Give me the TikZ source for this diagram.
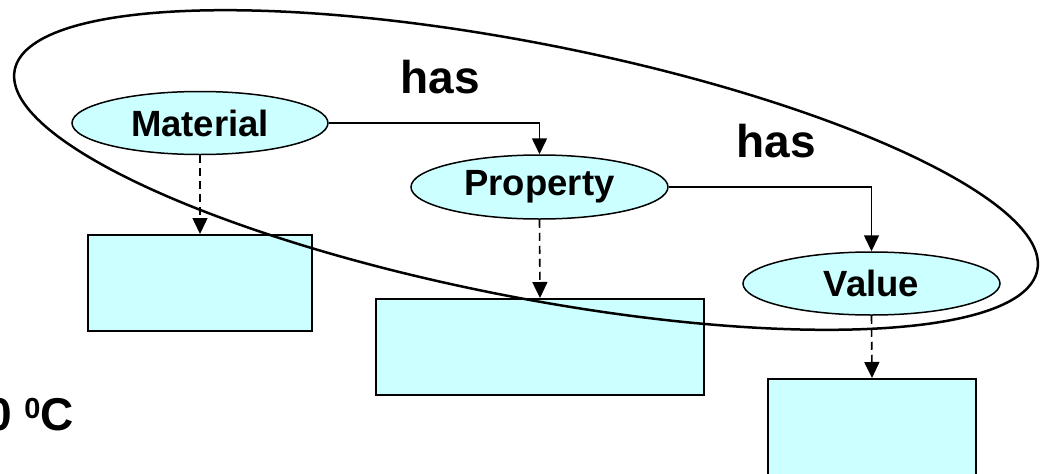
\documentclass[tikz,border=0pt]{standalone}
\usepackage{fontspec}
\setmainfont{Liberation Sans}
\usetikzlibrary{shapes.geometric,arrows.meta}
\definecolor{boxfill}{HTML}{CCFFFF}
\tikzset{
  concept/.style={ellipse,draw=black,line width=1.5pt,fill=boxfill,inner sep=0pt,
    minimum width=256pt,minimum height=63pt,font=\fontsize{36.5}{36.5}\selectfont\bfseries},
  valbox/.style={rectangle,draw=black,line width=2pt,fill=boxfill,inner sep=0pt},
  rel/.style={line width=1.6pt,-{Triangle[length=16pt,width=15pt]}},
  inst/.style={line width=1.6pt,dash pattern=on 8pt off 5pt,-{Triangle[length=16pt,width=15pt]}},
  biglabel/.style={font=\fontsize{46}{46}\selectfont\bfseries,inner sep=0pt},
  group/.style={line width=2.5pt}
}
\begin{document}
\begin{tikzpicture}[x=1pt,y=1pt]
\useasboundingbox (0,0) rectangle (1042,-474);
\clip (0,0) rectangle (1042,-474);
\fill[white] (0,0) rectangle (1042,-474);
% value boxes
\node[valbox,minimum width=224pt,minimum height=96pt] (r1) at (200,-283) {};
\node[valbox,minimum width=328pt,minimum height=96pt] (r2) at (540,-347) {};
\node[valbox,minimum width=208pt,minimum height=120pt] (r3) at (872,-439) {};
% concepts
\node[concept] (mat) at (200,-123) {Material};
\node[concept,minimum width=257pt,minimum height=64pt] (prop) at (539.5,-187) {Property};
\node[concept,minimum width=257pt] (val) at (871.5,-283.5) {Value};
% relations
\draw[rel] (mat.east) -| (prop.north);
\draw[rel] (prop.east) -| (val.north);
\draw[inst] (mat.south) -- (r1.north);
\draw[inst] (prop.south) -- (r2.north);
\draw[inst] (val.south) -- (r3.north);
% labels
\node[biglabel,anchor=base] (has1) at (440,-93) {has};
\node[biglabel,anchor=base] (has2) at (776,-157) {has};
\node[biglabel,anchor=base east] (temp) at (74,-430) {0 \raisebox{12pt}{\fontsize{29}{29}\selectfont 0}C};
% grouping ellipse
\draw[group,rotate around={-11.07:(526,-170)}] (526,-170) ellipse [x radius=521, y radius=127];
\end{tikzpicture}
\end{document}
